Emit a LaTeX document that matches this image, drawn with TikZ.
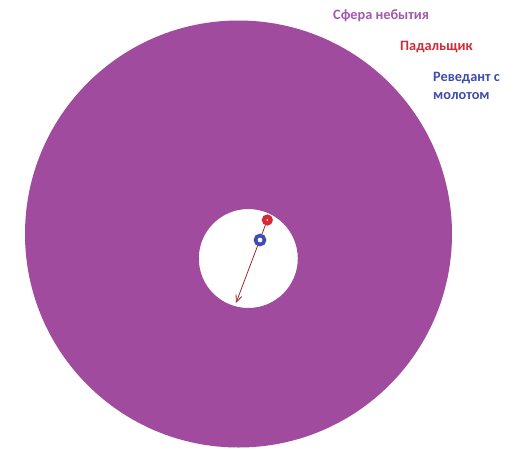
\documentclass[tikz,border=0pt]{standalone}
\usepackage{fontspec}
\setmainfont{Carlito}
\usetikzlibrary{arrows.meta}
\definecolor{spherecol}{HTML}{A14B9F}
\definecolor{spheretxt}{HTML}{A458AE}
\definecolor{redcol}{HTML}{D22B35}
\definecolor{bluecol}{HTML}{3F4DB0}
\definecolor{arrowcol}{HTML}{9E2A2A}
\tikzset{
  lbl/.style={anchor=west, inner sep=0pt, font=\fontsize{14.3}{18}\selectfont\bfseries, align=left},
  dotred/.style={circle, fill=redcol, draw=redcol, line width=3pt, inner sep=0pt, minimum size=8pt},
  dotblue/.style={circle, fill=white, draw=bluecol, line width=3.6pt, inner sep=0pt, minimum size=9pt},
}
\begin{document}
\begin{tikzpicture}[x=1pt, y=-1pt]
\useasboundingbox (0,0) rectangle (520,456);
\fill[white] (0,0) rectangle (520,456);
\fill[spherecol, even odd rule] (238.5,234) circle[radius=213.5] (248.3,258.5) circle[radius=49.5];
\node[dotred] (fall) at (267.3,220) {};
\fill[white] (fall.center) circle[radius=0.9pt];
\coordinate (tip) at (236,303);
\draw[arrowcol, line width=0.8pt, -{Straight Barb[length=7pt, width=6pt]}] (fall) -- (tip);
\node[dotblue] (rev) at (260,240) {};
\node[lbl, text=spheretxt] (t1) at (333,16) {Сфера небытия};
\node[lbl, text=redcol] (t2) at (400,47) {Падальщик};
\node[lbl, text=bluecol, anchor=north west] (t3) at (433,72) {Реведант с\\молотом};
\end{tikzpicture}
\end{document}
